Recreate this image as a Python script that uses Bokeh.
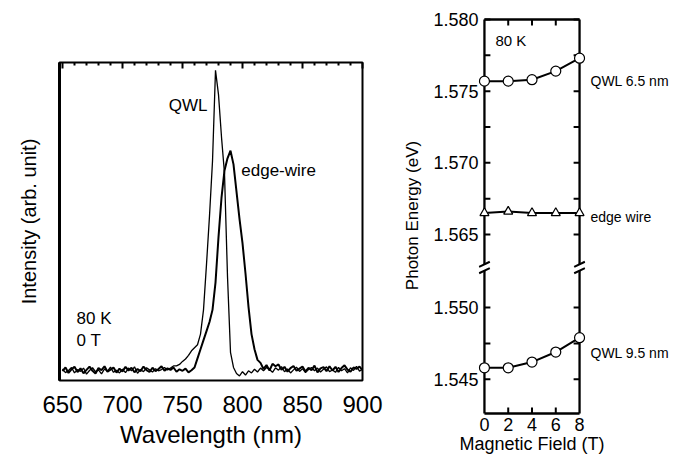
import numpy as np
from bokeh.plotting import figure
from bokeh.models import Range1d, LinearAxis, FixedTicker, Label, CustomJSTickFormatter, Title
from bokeh.layouts import row
from bokeh.embed import file_html
from bokeh.resources import INLINE

FONT = "Liberation Sans"

# ---------------- left panel data: PL spectra (80 K, 0 T) ----------------
wavelength_nm = np.arange(650.0, 900.0 + 1e-9, 2.5)   # sampling grid, 101 points

qwl_intensity = [
    1.5, 0.3, 1.0, 2.0, 0.2, 1.3, 0.7, 1.8, -0.2, 1.0,      # 650-672.5
    1.9, 0.6, 1.2, -0.1, 1.5, 0.8, 2.1, 0.4, 1.1, 0.2,      # 675-697.5
    1.4, 0.3, 1.8, 0.9, 2.2, 0.1, 1.3, 0.6, 1.9, 1.2,       # 700-722.5
    0.5, 1.6, 0.9, 1.3, 2.0, 1.2, 1.8, 2.5, 2.5, 3.0,       # 725-747.5
    4.0, 4.8, 6.0, 7.5, 8.5, 9.5, 13.0, 21.0, 36.0, 52.0,   # 750-772.5
    70.0, 100.0, 92.0, 78.0, 66.0, 32.0, 7.0, 2.0, 0.0, -0.8,  # 775-797.5
    0.6, -0.5, 0.9, 0.2, 1.4, 0.5, 1.8, 0.9, 2.0, 1.3,      # 800-822.5
    0.4, 1.9, 1.1, 2.3, 0.6, 1.5, 0.2, 1.2, 2.1, 0.7,       # 825-847.5
    1.6, 0.3, 1.3, 2.0, 0.9, 1.8, 0.5, 1.4, 2.2, 0.6,       # 850-872.5
    1.2, 0.4, 2.0, 0.9, 1.6, 0.2, 1.9, 1.0, 2.4, 0.8,       # 875-897.5
    1.5,                                                    # 900
]

edge_intensity = [
    0.8, 2.0, 0.2, 1.4, 2.2, 0.5, 1.7, 0.1, 1.2, 2.3,       # 650-672.5
    0.9, 0.0, 1.8, 1.1, 2.4, 0.6, 1.3, 2.0, 0.3, 1.6,       # 675-697.5
    0.7, 2.2, 1.0, 1.9, 0.4, 1.5, 0.8, 2.3, 1.1, 0.5,       # 700-722.5
    1.9, 0.8, 1.5, 2.4, 0.9, 1.7, 1.2, 2.0, 0.6, 1.4,       # 725-747.5
    0.9, 1.6, 0.4, 1.1, 2.0, 5.0, 8.0, 11.0, 14.0, 17.0,    # 750-772.5
    21.0, 30.0, 45.0, 58.0, 67.0, 71.0, 73.5, 69.0, 60.0, 51.0,  # 775-797.5
    43.0, 33.0, 22.0, 13.0, 8.0, 4.5, 3.5, 1.5, 2.8, 1.0,   # 800-822.5
    3.2, 2.4, 3.0, 1.2, 2.2, 0.6, 1.8, 2.5, 0.9, 1.6,       # 825-847.5
    2.3, 0.7, 1.9, 1.1, 2.6, 0.4, 1.7, 2.1, 0.8, 2.4,       # 850-872.5
    1.0, 2.2, 0.5, 1.8, 2.7, 1.3, 0.6, 2.0, 1.5, 2.3,       # 875-897.5
    1.1,                                                    # 900
]

left_x_ticks = [650, 700, 750, 800, 850, 900]
left_top_minor = [v for v in range(660, 900, 10) if v % 50 != 0]

# ---------------- right panel data: peak energy vs magnetic field ----------------
field_T = [0, 2, 4, 6, 8]
qwl65_eV = [1.5757, 1.5757, 1.5758, 1.5764, 1.5773]
edge_eV = [1.5665, 1.5666, 1.5665, 1.5665, 1.5665]
qwl95_eV = [1.5458, 1.5458, 1.5462, 1.5469, 1.5479]

series_names = ["QWL 9.5 nm", "edge wire", "QWL 6.5 nm"]
series_label_eV = [1.5468, 1.5662, 1.5757]

right_y_ticks = [1.545, 1.550, 1.565, 1.570, 1.575, 1.580]
right_y_minor = [1.545, 1.5475, 1.550, 1.565, 1.5675, 1.570, 1.5725, 1.575, 1.5775, 1.580]
right_x_ticks = [0, 2, 4, 6, 8]

# ================= left figure =================
p1 = figure(width=385, height=457,
            x_range=Range1d(647.5, 900), y_range=Range1d(-2.3, 102.6),
            min_border_left=59, min_border_right=23, min_border_top=62, min_border_bottom=77,
            output_backend="svg", toolbar_location=None)
p1.frame_align = False
p1.xgrid.visible = False
p1.ygrid.visible = False
p1.outline_line_color = "black"
p1.outline_line_width = 2
p1.background_fill_color = "white"
p1.border_fill_color = "white"

xa = p1.xaxis[0]
xa.ticker = FixedTicker(ticks=left_x_ticks)
xa.major_tick_in = 0
xa.major_tick_out = 0
xa.minor_tick_in = 0
xa.minor_tick_out = 0
xa.axis_line_color = None
xa.major_label_text_font = FONT
xa.major_label_text_font_size = "24px"
xa.major_label_text_color = "black"
xa.major_label_standoff = 15

ya = p1.yaxis[0]
ya.ticker = FixedTicker(ticks=[])
ya.major_tick_out = 0
ya.minor_tick_out = 0
ya.axis_line_color = "black"
ya.axis_line_width = 3
ya.axis_label = "Intensity (arb. unit)"
ya.axis_label_text_font = FONT
ya.axis_label_text_font_style = "normal"
ya.axis_label_text_font_size = "20px"
ya.axis_label_text_color = "black"
ya.axis_label_standoff = 20

top = LinearAxis(ticker=FixedTicker(ticks=left_x_ticks, minor_ticks=left_top_minor))
top.major_label_text_font_size = "0px"
top.major_label_text_color = None
top.major_tick_in = 6
top.major_tick_out = 0
top.minor_tick_in = 3
top.minor_tick_out = 0
top.major_tick_line_width = 2
top.minor_tick_line_width = 2
top.axis_line_color = None
p1.add_layout(top, "above")

p1.add_layout(Title(text="Wavelength (nm)", align="center", offset=33, standoff=6,
                    text_font=FONT, text_font_size="24px", text_font_style="normal",
                    text_color="black"), "below")

p1.line(wavelength_nm, qwl_intensity, line_color="black", line_width=1.3)
p1.line(wavelength_nm, edge_intensity, line_color="black", line_width=2.0)

def lab(p, x, y, t, size, align="left", baseline="middle", **kw):
    p.add_layout(Label(x=x, y=y, text=t, text_font=FONT, text_font_size=size,
                       text_align=align, text_baseline=baseline, text_color="black", **kw))

lab(p1, 770.8, 88.4, "QWL", "17px", align="right")
lab(p1, 799.0, 67.0, "edge-wire", "17px")
lab(p1, 661.7, 18.2, "80 K", "17px")
lab(p1, 661.7, 10.9, "0 T", "17px")

# ================= right figure =================
S = 14333.0          # px per eV
OFFSET = 0.0099      # axis break shift for the lower segment
THR = 1.556

def tr(e):
    return e if e > THR else e + OFFSET

y_top = 1.580 + 4 / S
y_bot = 1.580 - 396 / S
frame_bottom = 1.580 - 394 / S
y_break = 1.580 - 248 / S

p2 = figure(width=293, height=457,
            x_range=Range1d(-0.5, 8.5), y_range=Range1d(y_bot, y_top),
            min_border_left=93, min_border_right=93, min_border_top=15, min_border_bottom=42,
            output_backend="svg", toolbar_location=None)
p2.frame_align = False
p2.xgrid.visible = False
p2.ygrid.visible = False
p2.outline_line_color = None
p2.background_fill_color = "white"
p2.border_fill_color = "white"

bx = p2.xaxis[0]
bx.ticker = FixedTicker(ticks=right_x_ticks)
bx.major_tick_in = 0
bx.major_tick_out = 0
bx.minor_tick_in = 0
bx.minor_tick_out = 0
bx.axis_line_color = None
bx.major_label_text_font = FONT
bx.major_label_text_font_size = "18px"
bx.major_label_text_color = "black"
bx.major_label_standoff = 2
bx.axis_label = "Magnetic Field (T)"
bx.axis_label_text_font = FONT
bx.axis_label_text_font_style = "normal"
bx.axis_label_text_font_size = "18px"
bx.axis_label_text_color = "black"
bx.axis_label_standoff = 0

ly = p2.yaxis[0]
ly.ticker = FixedTicker(ticks=[tr(v) for v in right_y_ticks])
ly.formatter = CustomJSTickFormatter(args=dict(brk=y_break, off=OFFSET),
                                     code="const v = tick < brk ? tick - off : tick; return v.toFixed(3);")
ly.major_tick_in = 0
ly.major_tick_out = 0
ly.minor_tick_in = 0
ly.minor_tick_out = 0
ly.axis_line_color = None
ly.major_label_text_font = FONT
ly.major_label_text_font_size = "18px"
ly.major_label_text_color = "black"
ly.major_label_standoff = 0
ly.axis_label = "Photon Energy (eV)"
ly.axis_label_text_font = FONT
ly.axis_label_text_font_style = "normal"
ly.axis_label_text_font_size = "17px"
ly.axis_label_text_color = "black"
ly.axis_label_standoff = 8

# series names as a right-hand axis
ra = LinearAxis(ticker=FixedTicker(ticks=[tr(v) for v in series_label_eV]),
                formatter=CustomJSTickFormatter(args=dict(names=series_names),
                                                code="return names[index];"))
ra.major_tick_in = 0
ra.major_tick_out = 0
ra.minor_tick_in = 0
ra.minor_tick_out = 0
ra.axis_line_color = None
ra.major_label_text_font = FONT
ra.major_label_text_font_size = "14px"
ra.major_label_text_color = "black"
ra.major_label_standoff = 5
p2.add_layout(ra, "right")

gap = 0.00022
# frame box (with break gap on the vertical sides)
x0s, y0s, x1s, y1s = [], [], [], []
for xv in (0, 8):
    x0s += [xv, xv]
    y0s += [frame_bottom, y_break + gap]
    x1s += [xv, xv]
    y1s += [y_break - gap, 1.580]
x0s += [0, 0]
y0s += [1.580, frame_bottom]
x1s += [8, 8]
y1s += [1.580, frame_bottom]
p2.segment(x0s, y0s, x1s, y1s, line_color="black", line_width=2.3)

# inward ticks
tl = 0.5
tv = 6 / S
tx0, ty0, tx1, ty1 = [], [], [], []
for e in right_y_minor:
    yv = tr(e)
    tx0 += [0, 8]
    ty0 += [yv, yv]
    tx1 += [tl, 8 - tl]
    ty1 += [yv, yv]
for b in right_x_ticks[1:-1]:
    tx0 += [b, b]
    ty0 += [1.580, frame_bottom]
    tx1 += [b, b]
    ty1 += [1.580 - tv, frame_bottom + tv]
p2.segment(tx0, ty0, tx1, ty1, line_color="black", line_width=2)

# break marks
bx0, by0, bx1, by1 = [], [], [], []
for xv in (0, 8):
    for s in (-1, 1):
        yc = y_break + s * gap
        bx0.append(xv - 0.45)
        by0.append(yc - 0.00018)
        bx1.append(xv + 0.45)
        by1.append(yc + 0.00018)
p2.segment(bx0, by0, bx1, by1, line_color="black", line_width=2)

qwl65_t = [tr(v) for v in qwl65_eV]
edge_t = [tr(v) for v in edge_eV]
qwl95_t = [tr(v) for v in qwl95_eV]

p2.line(field_T, qwl65_t, line_color="black", line_width=2)
p2.line(field_T, edge_t, line_color="black", line_width=2)
p2.line(field_T, qwl95_t, line_color="black", line_width=2)
p2.scatter(field_T, qwl65_t, marker="circle", size=10, fill_color="white", line_color="black", line_width=1.2)
p2.scatter(field_T, qwl95_t, marker="circle", size=10, fill_color="white", line_color="black", line_width=1.2)
p2.scatter(field_T, edge_t, marker="triangle", size=9, fill_color="white", line_color="black", line_width=1.2)

lab(p2, 0.93, 1.580 - 21 / S, "80 K", "15px")

layout = row(p1, p2)
open("out.html", "w").write(file_html(layout, INLINE))
